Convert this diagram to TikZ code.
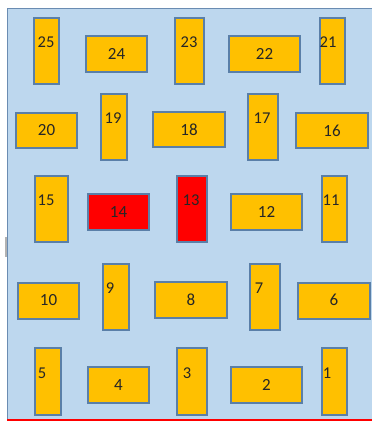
\documentclass[tikz,border=0pt]{standalone}
\usepackage{fontspec}
\setmainfont{Carlito}
\definecolor{bgblue}{HTML}{BDD7EE}
\definecolor{bgline}{HTML}{6A8CB2}
\definecolor{boxfill}{HTML}{FFC000}
\definecolor{boxline}{HTML}{5A7FA8}
\begin{document}
\begin{tikzpicture}[x=1pt,y=-1pt,
  box/.style={draw=boxline,line width=1.1pt,fill=boxfill},
  hot/.style={draw=boxline,line width=1.1pt,fill=red},
  lab/.style={font=\fontsize{16.5}{18}\selectfont,inner sep=0pt,text=black!85},
  wlab/.style={font=\fontsize{17}{19}\selectfont,inner sep=0pt,text=black!85}]
\useasboundingbox (0,0) rectangle (372,421);
\fill[white] (0,0) rectangle (372,421);
\node[draw=bgline,line width=1.2pt,fill=bgblue,inner sep=0pt,anchor=north west,minimum width=368pt,minimum height=411pt] (bg) at (7,8) {};
\fill[gray!60] (4.5,237) rectangle (6.5,257);
\coordinate (ra) at (7,420);
\coordinate (rb) at (372,420);
\draw[red,line width=1.2pt] (ra) -- (rb);
% row 1
\draw[box] (34,18) rectangle (59,84);   \node[lab] (n25) at (46,42) {25};
\draw[box] (86,36) rectangle (147,72);  \node[wlab] (n24) at (116.5,54) {24};
\draw[box] (175,18) rectangle (204,84); \node[lab] (n23) at (189,42) {23};
\draw[box] (229,36) rectangle (300,72); \node[wlab] (n22) at (264.5,54) {22};
\draw[box] (320,18) rectangle (345,84); \node[lab] (n21) at (328,42) {21};
% row 2
\draw[box] (16,113) rectangle (77,148);  \node[wlab] (n20) at (46.5,130.5) {20};
\draw[box] (101,94) rectangle (127,160); \node[lab] (n19) at (113,118) {19};
\draw[box] (153,112) rectangle (225,147);\node[wlab] (n18) at (189,129.5) {18};
\draw[box] (248,94) rectangle (278,160); \node[lab] (n17) at (262,118) {17};
\draw[box] (296,113) rectangle (368,148);\node[wlab] (n16) at (332,130.5) {16};
% row 3
\draw[box] (35,176) rectangle (68,242);  \node[lab] (n15) at (46,200) {15};
\draw[hot] (88,194) rectangle (149,230); \node[wlab] (n14) at (118.5,212) {14};
\draw[hot] (177,176) rectangle (207,242);\node[lab] (n13) at (191,200) {13};
\draw[box] (231,194) rectangle (302,230);\node[wlab] (n12) at (266.5,212) {12};
\draw[box] (322,176) rectangle (347,242);\node[lab] (n11) at (331,200) {11};
% row 4
\draw[box] (18,283) rectangle (79,319);  \node[wlab] (n10) at (48.5,300) {10};
\draw[box] (103,264) rectangle (129,330);\node[lab] (n9) at (110,288) {9};
\draw[box] (155,282) rectangle (227,318);\node[wlab] (n8) at (191,300) {8};
\draw[box] (250,264) rectangle (280,330);\node[lab] (n7) at (259,288) {7};
\draw[box] (298,283) rectangle (370,319);\node[wlab] (n6) at (334,300) {6};
% row 5
\draw[box] (35,348) rectangle (61,415);  \node[lab] (n5) at (42,373) {5};
\draw[box] (88,367) rectangle (149,403); \node[wlab] (n4) at (118.5,385) {4};
\draw[box] (177,348) rectangle (207,415);\node[lab] (n3) at (187,373) {3};
\draw[box] (231,367) rectangle (302,403);\node[wlab] (n2) at (266.5,385) {2};
\draw[box] (322,348) rectangle (347,415);\node[lab] (n1) at (327,373) {1};
\end{tikzpicture}
\end{document}
